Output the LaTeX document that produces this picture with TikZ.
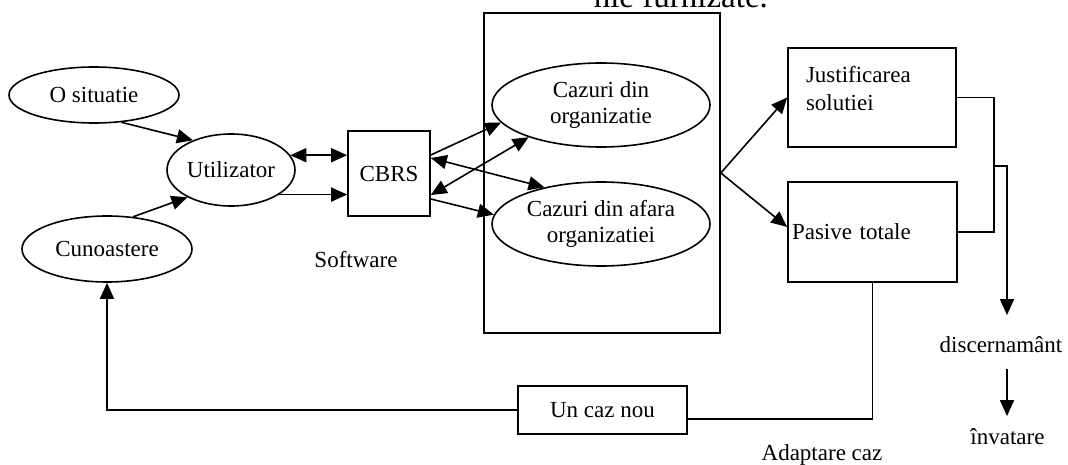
\documentclass[tikz,border=0pt]{standalone}
\usepackage{fontspec}
\setmainfont{Liberation Serif}
\usetikzlibrary{positioning,arrows.meta,shapes.geometric}
\tikzset{%
oval/.style={draw,ellipse,inner sep=0pt,align=center},
block/.style={draw,rectangle,inner sep=0pt},
caption/.style={inner sep=0pt},
arr/.style={-{Triangle[length=16pt,width=14pt]}},
darr/.style={{Triangle[length=16pt,width=14pt]}-{Triangle[length=16pt,width=14pt]}}
}
\begin{document}
\begin{tikzpicture}[x=1pt,y=-1pt,line width=1.6pt,font=\fontsize{23}{26}\selectfont]
  \useasboundingbox (0,0) rectangle (1068,465);

  % heading cut off by the page
  \begin{scope}
    \clip (0,0) rectangle (1068,465);
    \node[caption,anchor=base west,font=\fontsize{33}{36}\selectfont] (head) at (593,8) {nle furnizate.};
  \end{scope}

  % left part
  \node[oval,minimum width=170pt,minimum height=56pt] (sit) at (94,95) {O situatie};
  \node[oval,minimum width=170pt,minimum height=66pt] (cun) at (107,249) {Cunoastere};
  \node[oval,minimum width=128pt,minimum height=72pt] (util) at (231,170) {Utilizator};
  \node[block,minimum width=82pt,minimum height=85pt] (cbrs) at (389,173.5) {CBRS};
  \node[caption] (soft) at (356,260) {Software};

  % case store
  \node[block,minimum width=236pt,minimum height=320pt] (store) at (602,173) {};
  \node[oval,minimum width=218pt,minimum height=84pt] (org) at (601,105) {Cazuri din\\organizatie};
  \node[oval,minimum width=218pt,minimum height=84pt] (afara) at (601,224) {Cazuri din afara\\organizatiei};

  % right part
  \node[block,minimum width=168pt,minimum height=99pt] (just) at (872,97.5) {};
  \node[caption,anchor=north west,align=left,font=\fontsize{23}{28}\selectfont] (justtxt)
    at ([shift={(18pt,-18pt)}]just.north west) {Justificarea\\solutiei};
  \node[block,minimum width=169pt,minimum height=100pt,text width=161pt,inner xsep=4pt,align=left] (pas) at (872.5,232) {Pasive totale};
  \node[caption] (disc) at (1001,345) {discernamânt};
  \node[caption] (inv) at (1007.5,437) {învatare};
  \node[block,minimum width=169pt,minimum height=48pt] (uncaz) at (602.5,410) {Un caz nou};
  \node[caption] (adapt) at (822,455) {Adaptare caz};

  % connectors
  \draw[arr] (sit.-45) -- (util.142);
  \draw[arr] (cun.51) -- (util.212);
  \draw[darr] (util.14) -- (util.14 -| cbrs.west);
  \draw[arr] (util.-27) -- (util.-27 -| cbrs.west);

  \draw[arr] ([yshift=18.5pt]cbrs.east) -- (org.190);
  \draw[darr] ([yshift=-21.5pt]cbrs.east) -- (org.204);
  \draw[darr] ([yshift=15.5pt]cbrs.east) -- (afara.147);
  \draw[arr] ([yshift=-25.5pt]cbrs.east) -- (afara.175);

  \draw[arr] (store.east) -- (just.west);
  \draw[arr] (store.east) -- ([yshift=5pt]pas.west);

  \draw (just.east) -- ++(37,0) coordinate (bus) |- (pas.east);
  \coordinate (tap) at (1007,166);
  \draw[arr,shorten >=21pt] (bus |- tap) -| (tap |- disc.north);
  \draw[arr,shorten <=15pt,shorten >=12pt] (tap |- disc.south) -- (tap |- inv.north);

  \draw (pas.south) |- ([yshift=-9pt]uncaz.east);
  \draw[arr] (uncaz.west) -| (cun.south);
\end{tikzpicture}
\end{document}
